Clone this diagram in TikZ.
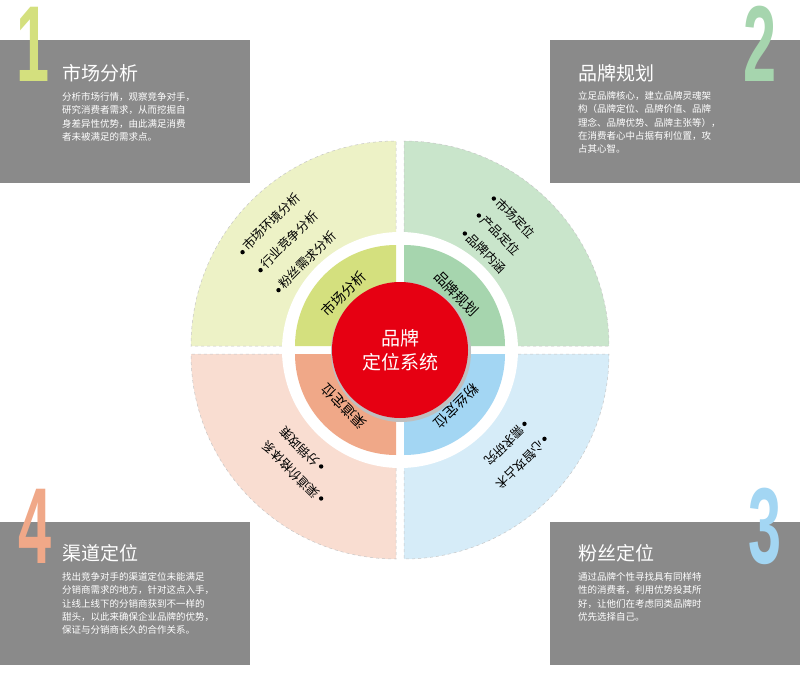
\documentclass[tikz,border=0pt]{standalone}
\usepackage{fontspec}
\setmainfont{Noto Sans CJK SC}
\newfontfamily\numfont{Liberation Sans}
\usetikzlibrary{positioning}
\definecolor{boxgray}{HTML}{8A8A8A}
\definecolor{redc}{HTML}{E60012}
\definecolor{gA}{HTML}{EDF2C6}\definecolor{gAi}{HTML}{D4E07E}
\definecolor{gB}{HTML}{C9E5CB}\definecolor{gBi}{HTML}{A6D5AE}
\definecolor{gC}{HTML}{D6ECF8}\definecolor{gCi}{HTML}{A3D6F3}
\definecolor{gD}{HTML}{F9DDD1}\definecolor{gDi}{HTML}{F0A888}
\newcommand{\dotmark}{\raisebox{0.2ex}{\tikz\fill (0,0) circle (2.2pt);}\,}
\tikzset{
  infobox/.style={fill=boxgray, minimum width=250pt, minimum height=143pt, anchor=north west, inner sep=0pt},
  bignum/.style={font=\numfont\bfseries\fontsize{108}{108}\selectfont, inner sep=0pt, xscale=0.55},
  boxtitle/.style={text=white, font=\fontsize{19}{19}\selectfont, anchor=west, inner sep=0pt},
  boxbody/.style={text=white, font=\fontsize{9.5}{13.4}\selectfont, anchor=north west, align=left, inner sep=0pt},
  ringtext/.style={font=\fontsize{12.5}{13}\selectfont, anchor=west, inner sep=0pt},
  innertext/.style={font=\fontsize{14}{14}\selectfont, inner sep=0pt},
  outersector/.style={draw=gray!45, dashed, line width=0.5pt}
}
\begin{document}
\begin{tikzpicture}[x=1pt,y=1pt]
\useasboundingbox (0,0) rectangle (800,-674);
% info boxes
\node[infobox] (b1) at (0,-40) {};
\node[infobox] (b2) at (550,-40) {};
\node[infobox] (b4) at (0,-522) {};
\node[infobox] (b3) at (550,-522) {};
% numbers
\node[bignum, text=gAi] (n1) at (33,-44) {1};
\node[bignum, text=gBi] (n2) at (760,-44) {2};
\node[bignum, text=gCi] (n3) at (765,-526) {3};
\node[bignum, text=gDi] (n4) at (35,-526) {4};
% titles and body text
\node[boxtitle] (t1) at (62,-73) {市场分析};
\node[boxbody, below=10pt of t1.south west, anchor=north west] (d1) {分析市场行情，观察竞争对手，\\研究消费者需求，从而挖掘自\\身差异性优势，由此满足消费\\者未被满足的需求点。};
\node[boxtitle] (t2) at (578,-73) {品牌规划};
\node[boxbody, below=9pt of t2.south west, anchor=north west] (d2) {立足品牌核心，建立品牌灵魂架\\构（品牌定位、品牌价值、品牌\\理念、品牌优势、品牌主张等），\\在消费者心中占据有利位置，攻\\占其心智。};
\node[boxtitle] (t4) at (62,-553) {渠道定位};
\node[boxbody, below=10pt of t4.south west, anchor=north west] (d4) {找出竞争对手的渠道定位未能满足\\分销商需求的地方，针对这点入手，\\让线上线下的分销商获到不一样的\\甜头，以此来确保企业品牌的优势，\\保证与分销商长久的合作关系。};
\node[boxtitle] (t3) at (578,-553) {粉丝定位};
\node[boxbody, below=10pt of t3.south west, anchor=north west] (d3) {通过品牌个性寻找具有同样特\\性的消费者，利用优势投其所\\好，让他们在考虑同类品牌时\\优先选择自己。};
% wheel
\coordinate (c) at (400,-350);
\begin{scope}[shift={(c)}]
\fill[gA, outersector, shift={(-4,4)}] (0,0) -- (180:205) arc (180:90:205) -- cycle;
\fill[gB, outersector, shift={(4,4)}] (0,0) -- (90:205) arc (90:0:205) -- cycle;
\fill[gC, outersector, shift={(4,-4)}] (0,0) -- (0:205) arc (0:-90:205) -- cycle;
\fill[gD, outersector, shift={(-4,-4)}] (0,0) -- (-90:205) arc (-90:-180:205) -- cycle;
\fill[white] (0,0) circle (118);
\fill[gAi, shift={(-4,4)}] (0,0) -- (180:101) arc (180:90:101) -- cycle;
\fill[gBi, shift={(4,4)}] (0,0) -- (90:101) arc (90:0:101) -- cycle;
\fill[gCi, shift={(4,-4)}] (0,0) -- (0:101) arc (0:-90:101) -- cycle;
\fill[gDi, shift={(-4,-4)}] (0,0) -- (-90:101) arc (-90:-180:101) -- cycle;
\fill[black!25] (1,-2) circle (70);
\end{scope}
\node[circle, fill=redc, minimum size=136pt, inner sep=0pt, text=white, align=center,
  font=\fontsize{19}{24}\selectfont] (core) at (c) {品牌\\定位系统};
% inner labels
\node[innertext, rotate=45] (i1) at ([shift={(135:80)}]c) {市场分析};
\node[innertext, rotate=-45] (i2) at ([shift={(45:80)}]c) {品牌规划};
\node[innertext, rotate=225] (i3) at ([shift={(-45:80)}]c) {粉丝定位};
\node[innertext, rotate=135] (i4) at ([shift={(-135:80)}]c) {渠道定位};
% outer labels
\node[ringtext, rotate=45] (o11) at (240,-253) {\dotmark 市场环境分析};
\node[ringtext, rotate=45] (o12) at (258,-271) {\dotmark 行业竞争分析};
\node[ringtext, rotate=45] (o13) at (276,-291) {\dotmark 粉丝需求分析};
\node[ringtext, rotate=-45] (o21) at (493,-196) {\dotmark 市场定位};
\node[ringtext, rotate=-45] (o22) at (478,-213) {\dotmark 产品定位};
\node[ringtext, rotate=-45] (o23) at (464,-231) {\dotmark 品牌内涵};
\node[ringtext, rotate=225] (o31) at (527,-423) {\dotmark 需求研究};
\node[ringtext, rotate=225] (o32) at (547,-438) {\dotmark 心智攻占术};
\node[ringtext, rotate=135] (o41) at (322,-469) {\dotmark 分销政策};
\node[ringtext, rotate=135] (o42) at (322,-501) {\dotmark 渠道价格体系};
\end{tikzpicture}
\end{document}
